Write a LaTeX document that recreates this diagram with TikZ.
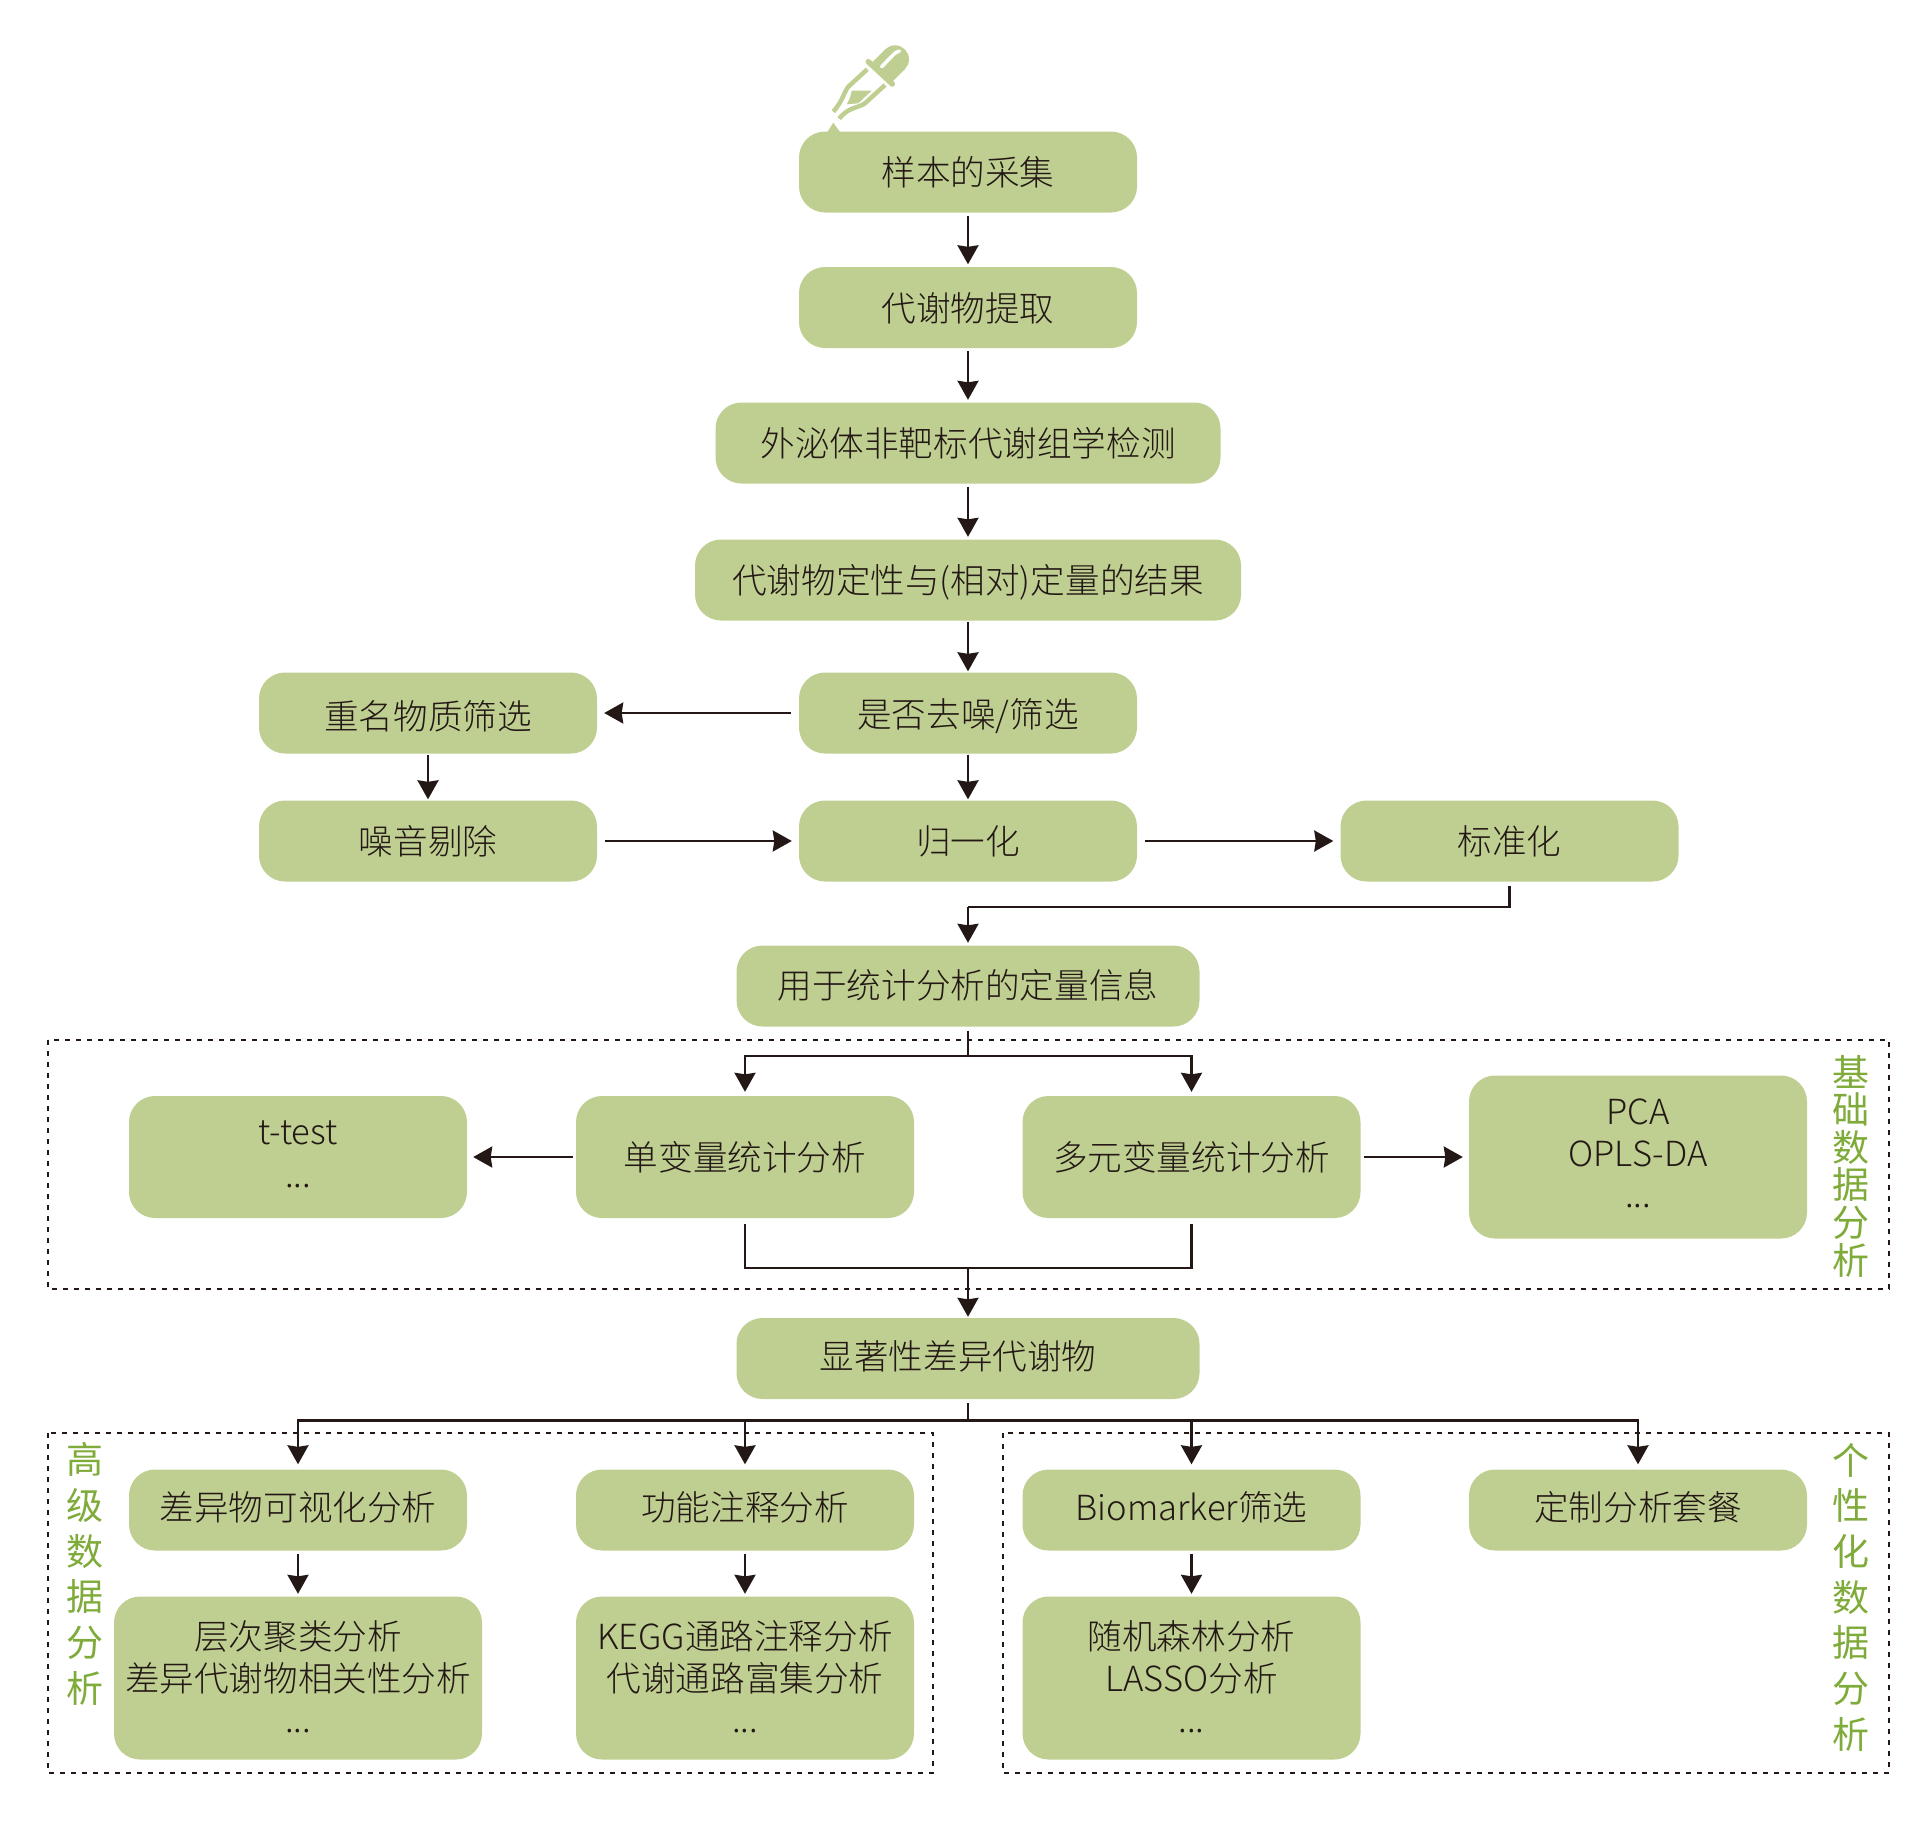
\documentclass[tikz,border=0pt]{standalone}
\usepackage{fontspec}
\setmainfont{Noto Sans CJK SC Light}
\newfontfamily\labelfont{Noto Sans CJK SC}
\usetikzlibrary{arrows.meta}
\newcommand{\nudge}[2]{\raisebox{#1}{\vphantom{样}}#2}

\begin{document}
\begin{tikzpicture}[x=1pt, y=-1pt,
    box/.style={fill=boxColour, rounded corners=26pt, minimum width=338pt, minimum height=81pt,
        inner sep=0pt, align=center, text=lineColour, font=\fontsize{34.6}{42}\selectfont},
    arrow/.style={draw=lineColour, line width=2.4pt, -{Stealth[length=19pt, width=21pt, inset=1.5pt]}},
    vflow/.style={arrow, shorten <=3pt, shorten >=2.5pt},
    tightflow/.style={arrow, shorten <=1pt, shorten >=1pt},
    hflow/.style={arrow, shorten <=8pt, shorten >=7pt},
    statflow/.style={arrow, shorten <=3pt, shorten >=6pt},
    wire/.style={draw=lineColour, line width=2.4pt},
    region/.style={draw=lineColour, line width=2.3pt, dash pattern=on 5pt off 6pt},
    sidelabel/.style={text=labelColour, align=center, inner sep=0pt, font=\labelfont\fontsize{37}{#1}\selectfont}]
    % Define colours
    \definecolor{boxColour}{HTML}{BFCF91}
    \definecolor{lineColour}{HTML}{231815}
    \definecolor{labelColour}{HTML}{7FAB3A}

    % Fix the page
    \useasboundingbox (0,0) rectangle (1925,1824);

    % Draw dotted regions
    \draw[region] (48,1040) rectangle (1889,1289);
    \draw[region] (48,1433) rectangle (933,1773);
    \draw[region] (1003,1433) rectangle (1889,1773);

    % Draw dropper
    \fill[boxColour] (895,59.3) circle (14pt);
    \draw[boxColour, line width=28pt] (895,59.3) -- (880.3,74);
    \draw[white, line width=3.5pt, line cap=round] (881.7,66.7) -- (893,55) .. controls (895,53) and (897,51.5) .. (899.5,51);
    \draw[boxColour, line width=5.5pt, line cap=round] (868.3,61.7) -- (892.3,84);
    \draw[boxColour, line width=4.5pt] (867.3,69.3) -- (848.3,86.7) .. controls (843.3,93.3) and (843.3,100) .. (833.3,111.7);
    \draw[boxColour, line width=4.5pt] (885,85) -- (865,103.3) .. controls (858.3,108.3) and (848.3,106.7) .. (839.3,118.7);
    \fill[boxColour] (851.7,90.7) -- (871.7,90.7) -- (858.3,103.3) -- (846.7,104.3) .. controls (850,98.3) .. cycle;
    \fill[boxColour] (833.3,122.7) -- (826.7,133) -- (840.7,133) -- cycle;

    % Main column
    \node[box] (sampleBox) at (968,172) {样本的采集};
    \node[box] (extractBox) at (968,307.5) {\nudge{2.4pt}{代谢物提取}};
    \node[box, minimum width=505pt] (detectBox) at (968,443) {外泌体非靶标代谢组学检测};
    \node[box, minimum width=546pt] (resultBox) at (968,580) {\nudge{5pt}{代谢物定性与(相对)定量的结果}};
    \node[box] (denoiseBox) at (968,713) {\nudge{7pt}{是否去噪/筛选}};
    \node[box] (normBox) at (968,841) {归一化};
    \node[box, minimum width=463pt] (quantBox) at (968,986) {\nudge{-2.4pt}{用于统计分析的定量信息}};
    \node[box, minimum width=463pt] (diffBox) at (968,1358.5) {\nudge{-5pt}{显著性差异代谢物}\kern20pt};

    % Side boxes
    \node[box] (renameBox) at (428,713) {\nudge{6pt}{重名物质筛选}};
    \node[box] (noiseBox) at (428,841) {噪音剔除};
    \node[box] (scaleBox) at (1509.5,841) {标准化};

    % Basic analysis
    \node[box, minimum height=122pt] (ttestBox) at (298,1157) {t-test\\[1pt]...\rule[-5pt]{0pt}{0pt}};
    \node[box, minimum height=122pt] (uniBox) at (745,1157) {单变量统计分析};
    \node[box, minimum height=122pt] (multiBox) at (1191.5,1157) {多元变量统计分析};
    \node[box, minimum height=163pt] (pcaBox) at (1638,1157) {PCA\\OPLS-DA\\[-1pt]...\rule[-7.5pt]{0pt}{0pt}};

    % Advanced and custom analysis
    \node[box] (plotBox) at (298,1510) {\nudge{-5pt}{差异物可视化分析}};
    \node[box] (funcBox) at (745,1510) {\nudge{-5pt}{功能注释分析}};
    \node[box] (markerBox) at (1191.5,1510) {\nudge{-5pt}{Biomarker筛选}};
    \node[box] (customBox) at (1638,1510) {\nudge{-5pt}{定制分析套餐}};
    \node[box, minimum width=368pt, minimum height=163pt] (clusterBox) at (298,1678) {层次聚类分析\\差异代谢物相关性分析\\[-1pt]...\rule[-2.4pt]{0pt}{0pt}};
    \node[box, minimum height=163pt] (keggBox) at (745,1678) {KEGG通路注释分析\\代谢通路富集分析\\[-1pt]...\rule[-2.4pt]{0pt}{0pt}};
    \node[box, minimum height=163pt] (forestBox) at (1191.5,1678) {随机森林分析\\LASSO分析\\[-1pt]...\rule[-2.4pt]{0pt}{0pt}};

    % Region labels
    \node[sidelabel=37.6] (basicLabel) at (1851,1166) {基\\础\\数\\据\\分\\析};
    \node[sidelabel=45.7] (advancedLabel) at (85,1574) {高\\级\\数\\据\\分\\析};
    \node[sidelabel=45.7] (customLabel) at (1851,1597) {个\\性\\化\\数\\据\\分\\析};

    % Straight arrows
    \foreach \from/\to in {sampleBox/extractBox, extractBox/detectBox, detectBox/resultBox,
        plotBox/clusterBox, funcBox/keggBox, markerBox/forestBox}
        \draw[vflow] (\from) -- (\to);
    \foreach \from/\to in {resultBox/denoiseBox, denoiseBox/normBox, renameBox/noiseBox}
        \draw[tightflow] (\from) -- (\to);
    \foreach \from/\to in {denoiseBox/renameBox, noiseBox/normBox, normBox/scaleBox}
        \draw[hflow] (\from) -- (\to);
    \foreach \from/\to in {uniBox/ttestBox, multiBox/pcaBox}
        \draw[statflow] (\from) -- (\to);

    % Standardised values go back to the main column
    \coordinate (scaleBus) at (968,907);
    \draw[wire, shorten <=4pt] (scaleBox.south) |- (scaleBus);
    \draw[vflow, shorten <=0pt] (scaleBus) -- (quantBox.north);

    % Split into the two statistics boxes
    \coordinate (splitBus) at (968,1056);
    \draw[wire, shorten <=4pt] (quantBox.south) -- (splitBus);
    \draw[arrow, shorten >=4pt] (splitBus) -| (uniBox.north);
    \draw[arrow, shorten >=4pt] (splitBus) -| (multiBox.north);

    % Join them again
    \coordinate (joinBus) at (968,1268);
    \draw[wire, shorten <=6pt] (uniBox.south) |- (joinBus);
    \draw[wire, shorten <=6pt] (multiBox.south) |- (joinBus);
    \draw[tightflow, shorten <=0pt] (joinBus) -- (diffBox.north);

    % Fan out to the last row
    \coordinate (fanBus) at (968,1420.5);
    \draw[wire, shorten <=4pt] (diffBox.south) -- (fanBus);
    \foreach \to in {plotBox, funcBox, markerBox, customBox}
        \draw[arrow, shorten >=5pt] (fanBus) -| (\to.north);

\end{tikzpicture}
\end{document}
